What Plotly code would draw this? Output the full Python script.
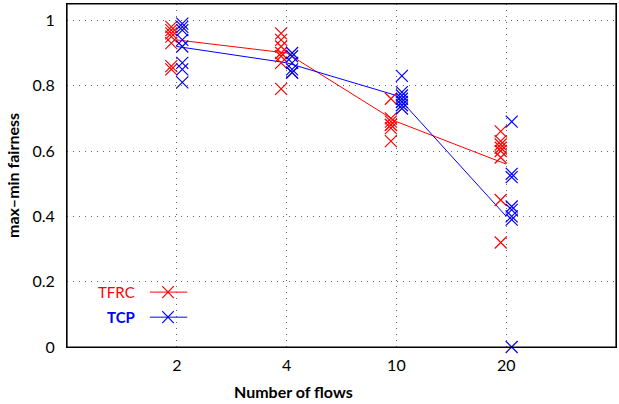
import plotly.graph_objects as go

categories = ["2", "4", "10", "20"]

tfrc_points = [
    [0.98, 0.97, 0.96, 0.95, 0.93, 0.86, 0.85],
    [0.96, 0.94, 0.92, 0.90, 0.89, 0.87, 0.79],
    [0.76, 0.70, 0.69, 0.68, 0.68, 0.67, 0.63],
    [0.66, 0.63, 0.62, 0.61, 0.60, 0.58, 0.45, 0.32],
]
tcp_points = [
    [0.99, 0.98, 0.97, 0.94, 0.92, 0.87, 0.85, 0.81],
    [0.90, 0.89, 0.87, 0.85, 0.84, 0.84],
    [0.83, 0.78, 0.77, 0.76, 0.75, 0.74, 0.73],
    [0.69, 0.53, 0.52, 0.43, 0.42, 0.40, 0.39, 0.00],
]
tfrc_mean = [0.94, 0.90, 0.69, 0.56]
tcp_mean = [0.92, 0.87, 0.77, 0.40]

RED = "#ff0000"
BLUE = "#0000ff"
FONT = "Lato, DejaVu Sans, sans-serif"

fig = go.Figure()

def scatter_pts(points, offset, color, name):
    xs, ys = [], []
    for i, vals in enumerate(points):
        for v in vals:
            xs.append(i + 1 + offset)
            ys.append(v)
    fig.add_trace(go.Scatter(
        x=xs, y=ys, mode="markers", name=name, showlegend=False,
        marker=dict(symbol="x-thin-open", size=12, color=color,
                    line=dict(color=color, width=1.2)),
        cliponaxis=False,
    ))

fig.add_trace(go.Scatter(x=[1, 2, 3, 4], y=tfrc_mean, mode="lines",
                         line=dict(color=RED, width=1), showlegend=False))
fig.add_trace(go.Scatter(x=[1, 2, 3, 4], y=tcp_mean, mode="lines",
                         line=dict(color=BLUE, width=1), showlegend=False))
scatter_pts(tfrc_points, -0.05, RED, "TFRC")
scatter_pts(tcp_points, 0.05, BLUE, "TCP")

# legend drawn manually (text left of sample, as in reference)
def legend_entry(yp, label, color, bold):
    fig.add_annotation(x=0.1275, y=yp, xref="paper", yref="paper",
                       text=f"<b>{label}</b>" if bold else label,
                       showarrow=False, xanchor="right", yanchor="middle",
                       font=dict(family=FONT, size=15, color=color))
    fig.add_shape(type="line", xref="paper", yref="paper",
                  x0=0.151, x1=0.219, y0=yp, y1=yp,
                  line=dict(color=color, width=1))
    cx = 0.184
    dx, dy = 0.0105, 0.0175
    fig.add_shape(type="line", xref="paper", yref="paper",
                  x0=cx - dx, x1=cx + dx, y0=yp - dy, y1=yp + dy,
                  line=dict(color=color, width=1.2))
    fig.add_shape(type="line", xref="paper", yref="paper",
                  x0=cx - dx, x1=cx + dx, y0=yp + dy, y1=yp - dy,
                  line=dict(color=color, width=1.2))

legend_entry(0.160, "TFRC", RED, False)
legend_entry(0.087, "TCP", BLUE, True)

# plot frame
fig.add_shape(type="rect", xref="paper", yref="paper", x0=0, x1=1, y0=0, y1=1,
              line=dict(color="black", width=1.2), layer="above")

fig.add_annotation(x=0.413, y=-0.131, xref="paper", yref="paper",
                   text="<b>Number of flows</b>", showarrow=False,
                   xanchor="center", yanchor="middle",
                   font=dict(family=FONT, size=16, color="black"))

grid = dict(showgrid=True, gridcolor="#666", griddash="1px,5px", gridwidth=1,
            showline=True, linecolor="black", linewidth=1, mirror=True,
            zeroline=False, ticks="", automargin=False)

fig.update_layout(
    width=619, height=404,
    margin=dict(l=67, r=3, t=4, b=57),
    paper_bgcolor="white", plot_bgcolor="white",
    font=dict(family=FONT, size=16, color="black"),
    xaxis=dict(range=[0, 5], tickvals=[1, 2, 3, 4], ticktext=categories,
               ticklabelstandoff=4, **grid),
    yaxis=dict(range=[0, 1.05], tickvals=[0, 0.2, 0.4, 0.6, 0.8, 1],
               ticktext=["0", "0.2", "0.4", "0.6", "0.8", "1"],
               ticklabelstandoff=8,
               title=dict(text="<b>max\u2013min fairness</b>", standoff=8,
                          font=dict(family=FONT, size=16)),
               **grid),
)

fig.write_html("out.html", config={"displayModeBar": False},
               post_script="document.body.style.margin='0';document.body.style.padding='0';")
